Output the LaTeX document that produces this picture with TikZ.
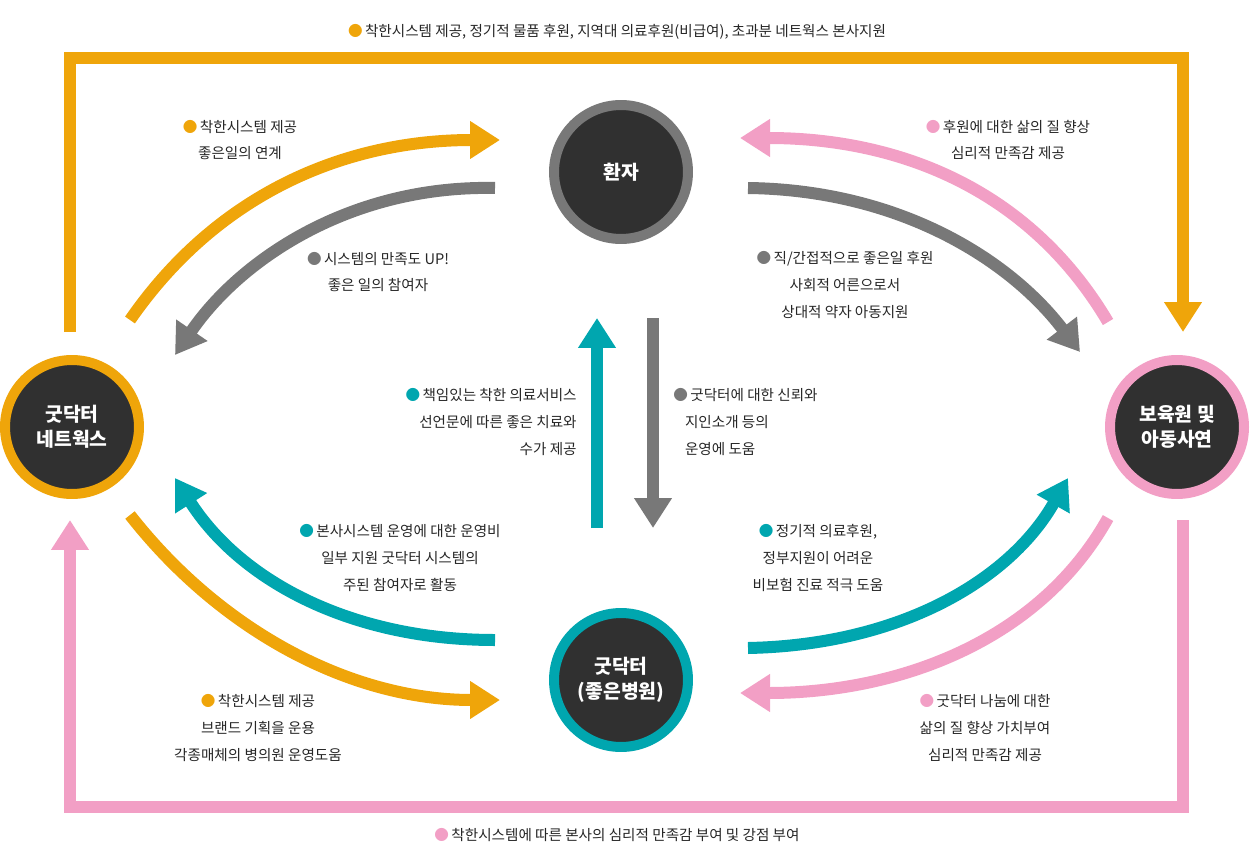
\documentclass[tikz,border=0pt]{standalone}
\usepackage{fontspec}
\setmainfont{Noto Sans CJK KR}
\usetikzlibrary{arrows.meta}
\definecolor{cor}{HTML}{EFA50A}
\definecolor{cgr}{HTML}{787878}
\definecolor{cte}{HTML}{00A6AF}
\definecolor{cpk}{HTML}{F29FC5}
\definecolor{cdk}{HTML}{303030}
\begin{document}
\begin{tikzpicture}[x=0.02cm,y=-0.02cm,
 hub/.style={circle,fill=cdk,draw=#1,line width=0.2cm,minimum size=2.68cm,inner sep=0pt,text=white,font=\fontsize{11pt}{14pt}\selectfont\bfseries,align=center},
 arr/.style={draw=#1,line width=0.24cm,-{Triangle[width=0.72cm,length=0.6cm]}},
 lbl/.style={font=\fontsize{8.3pt}{15.3pt}\selectfont,text=black!85,align=center,inner sep=0pt}]
\useasboundingbox (0,0) rectangle (1250,858);
\newcommand{\bl}[1]{\textcolor{#1}{●}\,}
\node[hub=cgr] (pat) at (621,172) {환자};
\node[hub=cor] (net) at (72,427) {굿닥터\\네트웍스};
\node[hub=cpk] (orph) at (1177,427) {보육원 및\\아동사연};
\node[hub=cte] (hosp) at (621,680) {굿닥터\\(좋은병원)};
% outer frame
\coordinate (o1) at (70,332); \coordinate (o2) at (70,58); \coordinate (o3) at (1183,58); \coordinate (o4) at (1183,332);
\draw[arr=cor,-{Triangle[width=0.72cm,length=0.6cm]}] (o1) -- (o2) -- (o3) -- (o4);
\coordinate (p1) at (1183,520); \coordinate (p2) at (1183,807); \coordinate (p3) at (70,807); \coordinate (p4) at (70,520);
\draw[arr=cpk] (p1) -- (p2) -- (p3) -- (p4);
% curves
\draw[arr=cor] (130,320) .. controls (220,190) and (350,140) .. (500,140);
\draw[arr=cgr] (495,188) .. controls (350,185) and (240,260) .. (175,355);
\draw[arr=cpk] (1108,322) .. controls (1030,190) and (900,138) .. (740,138);
\draw[arr=cgr] (748,188) .. controls (900,190) and (1010,260) .. (1080,352);
\draw[arr=cte] (495,640) .. controls (350,640) and (240,580) .. (175,478);
\draw[arr=cor] (130,515) .. controls (220,630) and (350,700) .. (500,700);
\draw[arr=cte] (748,648) .. controls (900,645) and (1010,580) .. (1068,478);
\draw[arr=cpk] (1108,518) .. controls (1040,640) and (900,693) .. (740,693);
\draw[arr=cte] (597,528) -- (597,318);
\draw[arr=cgr] (653,318) -- (653,528);
% labels
\node[lbl] (t1) at (617,32) {\bl{cor}착한시스템 제공, 정기적 물품 후원, 지역대 의료후원(비급여), 초과분 네트웍스 본사지원};
\node[lbl] (t2) at (240,140) {\bl{cor}착한시스템 제공\\좋은일의 연계};
\node[lbl] (t3) at (378,272) {\bl{cgr}시스템의 만족도 UP!\\좋은 일의 참여자};
\node[lbl] (t4) at (1008,140) {\bl{cpk}후원에 대한 삶의 질 향상\\심리적 만족감 제공};
\node[lbl] (t5) at (845,285) {\bl{cgr}직/간접적으로 좋은일 후원\\사회적 어른으로서\\상대적 약자 아동지원};
\node[lbl,align=right,anchor=east] (t6) at (577,422) {\bl{cte}책임있는 착한 의료서비스\\선언문에 따른 좋은 치료와\\수가 제공};
\node[lbl,align=left,anchor=west] (t7) at (673,422) {\bl{cgr}굿닥터에 대한 신뢰와\\\hspace{0.8em}지인소개 등의\\\hspace{0.8em}운영에 도움};
\node[lbl] (t8) at (400,558) {\bl{cte}본사시스템 운영에 대한 운영비\\일부 지원 굿닥터 시스템의\\주된 참여자로 활동};
\node[lbl] (t9) at (818,558) {\bl{cte}정기적 의료후원,\\정부지원이 어려운\\비보험 진료 적극 도움};
\node[lbl] (t10) at (258,728) {\bl{cor}착한시스템 제공\\브랜드 기획을 운용\\각종매체의 병의원 운영도움};
\node[lbl] (t11) at (985,728) {\bl{cpk}굿닥터 나눔에 대한\\삶의 질 향상 가치부여\\심리적 만족감 제공};
\node[lbl] (t12) at (617,835) {\bl{cpk}착한시스템에 따른 본사의 심리적 만족감 부여 및 강점 부여};
\end{tikzpicture}
\end{document}
